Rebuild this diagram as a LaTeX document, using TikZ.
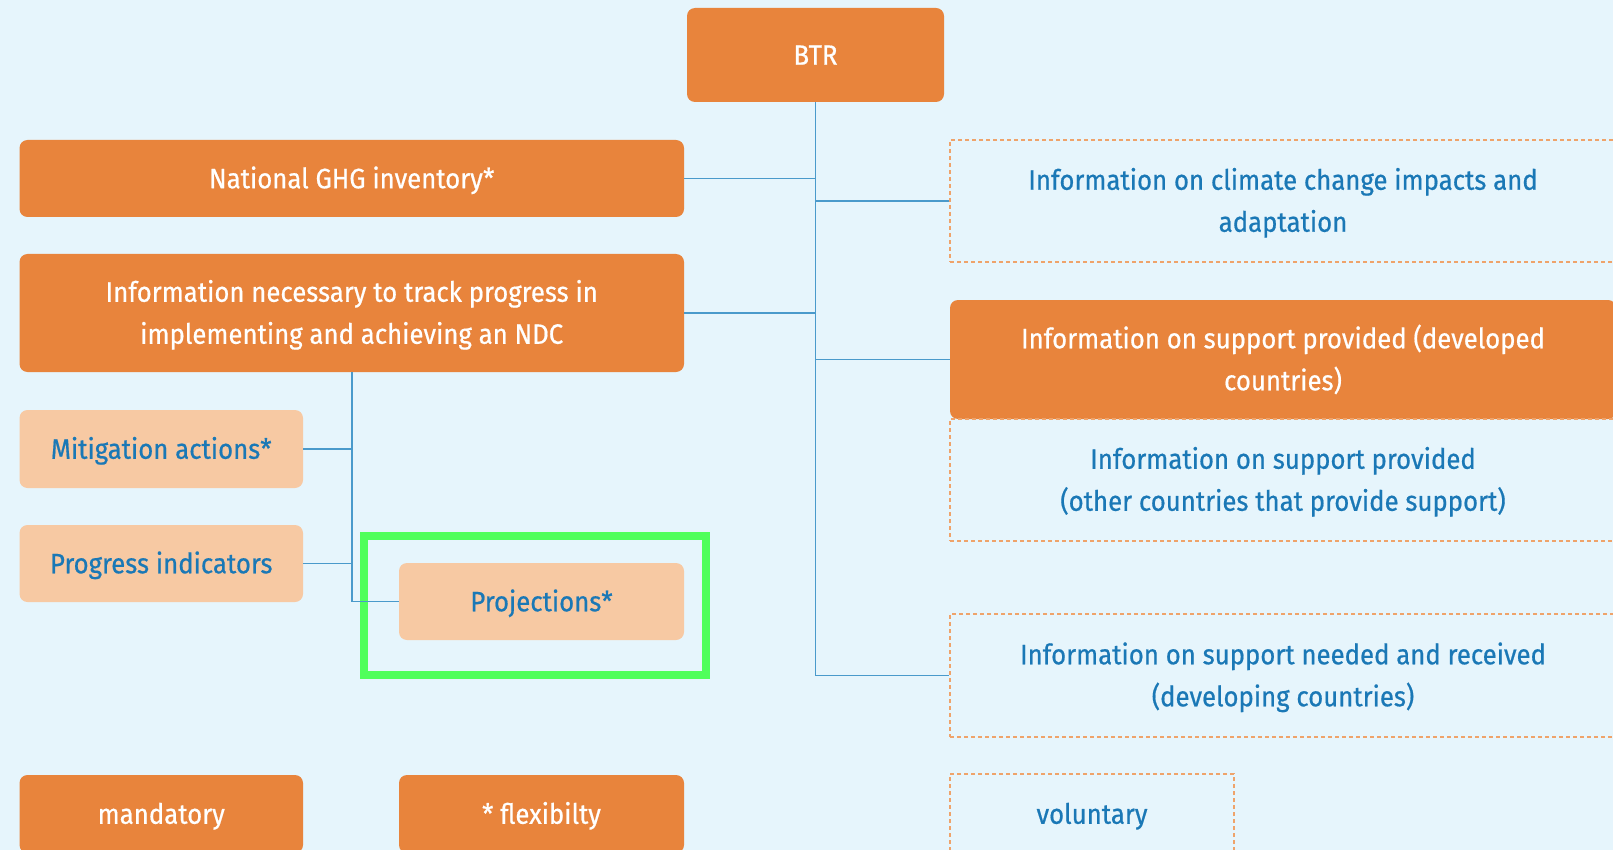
\documentclass[tikz,border=0pt]{standalone}
\usepackage{fontspec}
\setmainfont{Fira Sans}[FakeStretch=0.92,FakeBold=0.6]
\definecolor{bgc}{HTML}{E6F5FC}
\definecolor{org}{HTML}{E8843C}
\definecolor{peach}{HTML}{F7C9A3}
\definecolor{txtblue}{HTML}{1A78B6}
\definecolor{lineblue}{HTML}{4A9ACB}
\definecolor{dashorg}{HTML}{EFA36A}
\definecolor{grn}{HTML}{50FF5C}
\begin{document}
\begin{tikzpicture}[x=1pt,y=-1pt,
  base/.style={align=center,inner sep=0pt,font=\fontsize{28}{42}\selectfont,text height=19.5pt,text depth=0pt},
  twolines/.style={text height=61.5pt,text depth=0pt},
  solidbox/.style={base,rectangle,rounded corners=8pt,fill=org,text=white},
  peachbox/.style={base,rectangle,rounded corners=8pt,fill=peach,text=txtblue},
  dashbox/.style={base,rectangle,draw=dashorg,line width=1.8pt,dash pattern=on 4pt off 3pt,text=txtblue},
  conn/.style={draw=lineblue,line width=1.8pt}]
\fill[bgc] (0,0) rectangle (1613,850);
\useasboundingbox (0,0) rectangle (1613,850);

\node[solidbox,minimum width=257pt,minimum height=94pt] (btr) at (815.5,55) {BTR};
\node[solidbox,minimum width=664.5pt,minimum height=77pt] (ghg) at (351.75,178.5) {National GHG inventory*};
\node[solidbox,twolines,minimum width=664.5pt,minimum height=118pt] (info) at (351.75,313) {Information necessary to track progress in\\implementing and achieving an NDC};
\node[peachbox,minimum width=283.5pt,minimum height=78pt] (mit) at (161.25,449) {Mitigation actions*};
\node[peachbox,minimum width=283.5pt,minimum height=77pt] (prog) at (161.25,563.5) {Progress indicators};
\node[peachbox,minimum width=285pt,minimum height=77pt] (proj) at (541.5,601.5) {Projections*};
\draw[grn,line width=8pt] (364,536) rectangle (706,675);

\node[solidbox,minimum width=283.5pt,minimum height=78pt] (mand) at (161.25,814) {mandatory};
\node[solidbox,minimum width=285pt,minimum height=78pt] (flex) at (541.5,814) {* flexibilty};
\node[dashbox,minimum width=284pt,minimum height=80pt] (vol) at (1092,814) {voluntary};

\node[dashbox,twolines,minimum width=666pt,minimum height=122pt] (clim) at (1283,201) {Information on climate change impacts and\\adaptation};
\node[solidbox,twolines,minimum width=666pt,minimum height=119pt] (supdev) at (1283,359.5) {Information on support provided (developed\\countries)};
\node[dashbox,twolines,minimum width=666pt,minimum height=122pt] (supoth) at (1283,480) {Information on support provided\\(other countries that provide support)};
\node[dashbox,twolines,minimum width=666pt,minimum height=123pt] (need) at (1283,675.5) {Information on support needed and received\\(developing countries)};

\draw[conn] (btr.south) |- (need.west);
\draw[conn] (ghg.east) -- (ghg.east -| btr.south);
\draw[conn] (info.east) -- (info.east -| btr.south);
\draw[conn] (clim.west) -- (clim.west -| btr.south);
\draw[conn] (supdev.west) -- (supdev.west -| btr.south);

\draw[conn] (info.south) |- (proj.west);
\draw[conn] (mit.east) -- (mit.east -| info.south);
\draw[conn] (prog.east) -- (prog.east -| info.south);
\end{tikzpicture}
\end{document}
